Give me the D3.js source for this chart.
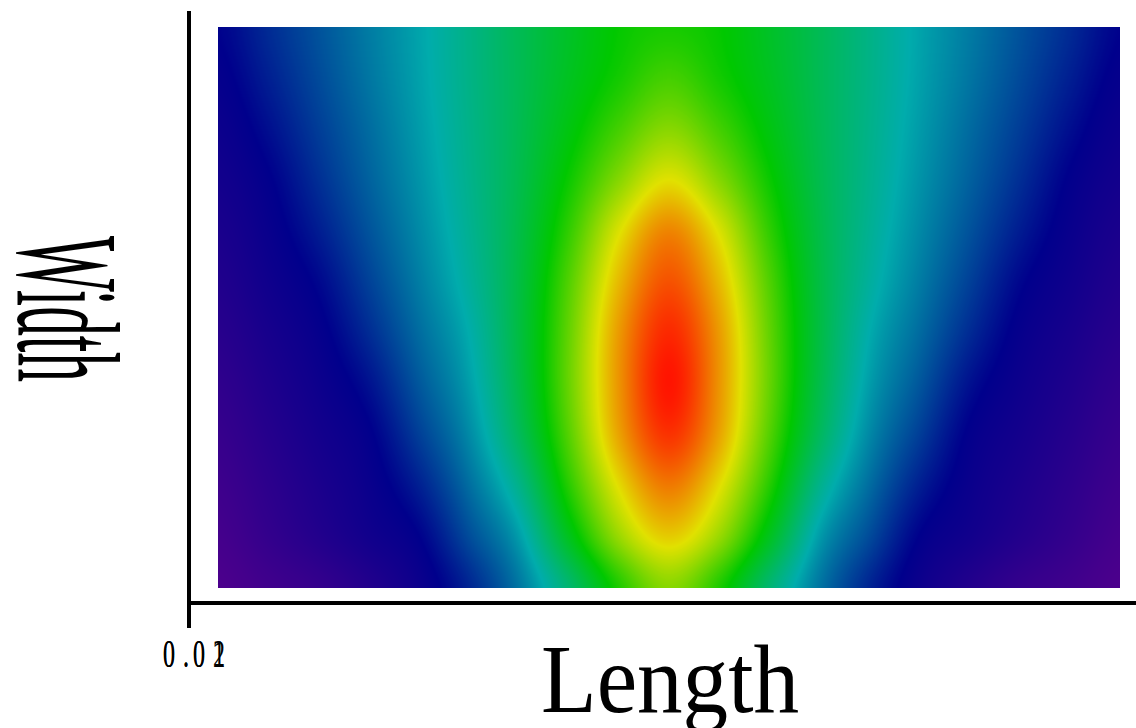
<!DOCTYPE html>
<html>
<head>
<meta charset="utf-8">
<script src="https://cdn.jsdelivr.net/npm/d3@7"></script>
<style>
  html, body { margin: 0; padding: 0; background: #ffffff; }
  svg { display: block; }
  .serif { font-family: "Liberation Serif", "DejaVu Serif", "Noto Serif", "Times New Roman", Times, serif; }
</style>
</head>
<body>
<svg id="chart" width="1136" height="728"></svg>
<script>
// Sample positions along the Length axis (left to right)
const lengths = [0.020, 0.025, 0.030, 0.035, 0.040, 0.045, 0.050, 0.055, 0.060, 0.065,
                 0.070, 0.075, 0.080, 0.085, 0.090, 0.095, 0.100, 0.105, 0.110];
// Sample positions along the Width axis (top to bottom)
const widths = [0.032, 0.030, 0.028, 0.026, 0.024, 0.022, 0.020, 0.018, 0.016, 0.014, 0.012, 0.010];

// Normalised intensity on the grid, one row per width, one column per length
const intensity = [
  [.202,.249,.295,.343,.390,.445,.502,.555,.603,.620,.603,.555,.502,.445,.390,.343,.295,.249,.202],
  [.190,.235,.285,.336,.387,.444,.502,.563,.617,.660,.617,.563,.502,.444,.387,.336,.285,.235,.190],
  [.175,.216,.270,.324,.380,.441,.505,.582,.660,.720,.660,.582,.505,.441,.380,.324,.270,.216,.175],
  [.161,.196,.253,.312,.371,.437,.510,.610,.719,.800,.719,.610,.510,.437,.371,.312,.253,.196,.161],
  [.146,.182,.232,.295,.359,.430,.517,.643,.794,.890,.794,.643,.517,.430,.359,.295,.232,.182,.146],
  [.132,.168,.207,.274,.344,.419,.522,.672,.839,.940,.839,.672,.522,.419,.344,.274,.207,.168,.132],
  [.117,.152,.188,.249,.324,.400,.523,.688,.869,.980,.869,.688,.523,.400,.324,.249,.188,.152,.117],
  [.101,.137,.173,.219,.300,.382,.515,.692,.875,1.00,.875,.692,.515,.382,.300,.219,.173,.137,.101],
  [.086,.122,.158,.194,.271,.358,.493,.675,.860,.970,.860,.675,.493,.358,.271,.194,.158,.122,.086],
  [.071,.107,.143,.179,.235,.325,.440,.633,.804,.900,.804,.633,.440,.325,.235,.179,.143,.107,.071],
  [.056,.092,.127,.163,.199,.286,.381,.565,.735,.820,.735,.565,.381,.286,.199,.163,.127,.092,.056],
  [.041,.066,.090,.128,.174,.241,.336,.469,.625,.720,.625,.469,.336,.241,.174,.128,.090,.066,.041]
];

// Colour ramp: violet -> navy -> cyan -> green -> yellow -> red
const levelStops  = [0, 0.2, 0.4, 0.6, 0.8, 1.0];
const levelColors = ["#5f008c", "#00008c", "#00acac", "#00c800", "#e1e100", "#ff1400"];

const originLabels = ["0.02", "0.01"];
const xTitle = "Length";
const yTitle = "Width";

const svg = d3.select("#chart");

const x = d3.scaleLinear().domain([lengths[0], lengths[lengths.length - 1]]).range([218, 1120]);
const y = d3.scaleLinear().domain([widths[0], widths[widths.length - 1]]).range([27, 588]);
const color = d3.scaleLinear().domain(levelStops).range(levelColors).clamp(true);

// Fractional grid index for a data coordinate
const colIndex = d3.scaleLinear().domain([lengths[0], lengths[lengths.length - 1]]).range([0, lengths.length - 1]);
const rowIndex = d3.scaleLinear().domain([widths[0], widths[widths.length - 1]]).range([0, widths.length - 1]);

// Catmull-Rom weights
function crWeights(t) {
  const t2 = t * t, t3 = t2 * t;
  return [(-t3 + 2 * t2 - t) / 2, (3 * t3 - 5 * t2 + 2) / 2, (-3 * t3 + 4 * t2 + t) / 2, (t3 - t2) / 2];
}
function taps(f, n) {
  const i = Math.floor(f);
  const t = f - i;
  const idx = [i - 1, i, i + 1, i + 2].map(k => Math.max(0, Math.min(n - 1, k)));
  return { idx, w: crWeights(t) };
}

const x0 = Math.round(x.range()[0]), x1 = Math.round(x.range()[1]);
const y0 = Math.round(y.range()[0]), y1 = Math.round(y.range()[1]);
const W = x1 - x0, H = y1 - y0;

const colTaps = d3.range(W).map(px => taps(Math.min(colIndex(x.invert(x0 + px + 0.5)), lengths.length - 1.0001), lengths.length));
const rowTaps = d3.range(H).map(py => taps(Math.min(rowIndex(y.invert(y0 + py + 0.5)), widths.length - 1.0001), widths.length));

// Colour lookup table
const LUT_N = 1024;
const lut = d3.range(LUT_N).map(i => d3.rgb(color(i / (LUT_N - 1))));

const canvas = document.createElement("canvas");
canvas.width = W; canvas.height = H;
const ctx = canvas.getContext("2d");
const img = ctx.createImageData(W, H);
for (let py = 0; py < H; py++) {
  const rt = rowTaps[py];
  // interpolate each grid column at this row first
  const rowVals = lengths.map((_, c) => {
    let s = 0;
    for (let k = 0; k < 4; k++) s += rt.w[k] * intensity[rt.idx[k]][c];
    return s;
  });
  for (let px = 0; px < W; px++) {
    const ct = colTaps[px];
    let v = 0;
    for (let k = 0; k < 4; k++) v += ct.w[k] * rowVals[ct.idx[k]];
    v = Math.max(0, Math.min(1, v));
    const c = lut[Math.round(v * (LUT_N - 1))];
    const o = (py * W + px) * 4;
    img.data[o] = c.r; img.data[o + 1] = c.g; img.data[o + 2] = c.b; img.data[o + 3] = 255;
  }
}
ctx.putImageData(img, 0, 0);

svg.append("image")
  .attr("x", x0).attr("y", y0)
  .attr("width", W).attr("height", H)
  .attr("preserveAspectRatio", "none")
  .attr("href", canvas.toDataURL());

// Axis lines
svg.append("line")
  .attr("x1", 189).attr("x2", 189).attr("y1", 11).attr("y2", 628)
  .attr("stroke", "#000").attr("stroke-width", 4);
svg.append("line")
  .attr("x1", 187).attr("x2", 1136).attr("y1", 603).attr("y2", 603)
  .attr("stroke", "#000").attr("stroke-width", 4);

// Origin labels, drawn on top of each other at the corner
originLabels.forEach(label => {
  svg.append("text")
    .attr("class", "serif")
    .attr("transform", "translate(163,667) scale(0.6,1)")
    .attr("x", "0 33.3 50 83.3")
    .attr("font-size", 40)
    .attr("fill", "#000")
    .text(label);
});

// Axis titles
svg.append("text")
  .attr("class", "serif")
  .attr("x", 541).attr("y", 712)
  .attr("font-size", 97)
  .attr("textLength", 258)
  .attr("lengthAdjust", "spacingAndGlyphs")
  .attr("fill", "#000")
  .text(xTitle);

svg.append("text")
  .attr("class", "serif")
  .attr("transform", "translate(18,236) rotate(90)")
  .attr("font-size", 146)
  .attr("textLength", 146)
  .attr("lengthAdjust", "spacingAndGlyphs")
  .attr("fill", "#000")
  .text(yTitle);
</script>
</body>
</html>
